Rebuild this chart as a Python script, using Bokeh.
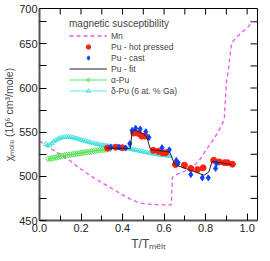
import math
from bokeh.plotting import figure
from bokeh.models import FixedTicker, Range1d, Legend, LegendItem, PrintfTickFormatter
from bokeh.embed import file_html
from bokeh.resources import INLINE

# ---------------- data ----------------
mn_x = [0.00, 0.05, 0.10, 0.15, 0.20, 0.25, 0.30, 0.35, 0.40, 0.44, 0.48, 0.52, 0.56,
        0.60, 0.635, 0.640, 0.66, 0.70, 0.74, 0.77, 0.80, 0.83, 0.855, 0.88, 0.89,
        0.90, 0.91, 0.925, 0.94, 0.97, 1.00, 1.03]
mn_y = [540, 532, 525, 517, 508, 500, 493, 486, 479, 474, 470, 468.5, 468,
        467.8, 467.6, 499, 502, 506, 511, 518, 529, 539, 548, 559, 565,
        606, 621, 651, 655, 662, 668, 675.5]

hp_x = [0.328, 0.367, 0.399, 0.454, 0.477, 0.493, 0.509, 0.548, 0.572, 0.593, 0.608,
        0.655, 0.698, 0.729, 0.761, 0.788, 0.839, 0.866, 0.891, 0.905, 0.929]
hp_y = [532, 533, 532.4, 549, 548.5, 545.5, 545.5, 529.4, 528.3, 526.7, 526.7,
        513.3, 512.6, 508.8, 507.6, 509.6, 518.2, 516.3, 515.5, 515.5, 513.7]

cast_x = [0.344, 0.383, 0.415, 0.435, 0.446, 0.463, 0.485, 0.512, 0.527, 0.590, 0.625,
          0.659, 0.668, 0.729, 0.784, 0.813, 0.848, 0.852]
cast_y = [533, 533, 532, 537, 552, 554.5, 553.5, 550.5, 544, 532.5, 530,
          518, 515, 502, 498.3, 498.3, 509, 514.5]

fit_x = [0.32, 0.438, 0.446, 0.454, 0.501, 0.517, 0.533, 0.541, 0.627, 0.651,
         0.793, 0.816, 0.831, 0.926]
fit_y = [532, 531.5, 551.9, 552.6, 548.1, 544.4, 531.2, 530, 527.5, 513.3,
         501.3, 505, 517, 513.3]

alpha_x = [0.04, 0.05, 0.06, 0.07, 0.08, 0.09, 0.10, 0.11, 0.12, 0.13, 0.14, 0.15,
           0.16, 0.17, 0.18, 0.19, 0.20, 0.21, 0.22, 0.23, 0.24, 0.25, 0.26, 0.27,
           0.28, 0.29, 0.30, 0.31, 0.32, 0.33, 0.34]
alpha_y = [519.8, 520.2, 520.5, 520.9, 521.4, 522.0, 522.6, 523.0, 523.5, 523.9, 524.2,
           524.6, 524.9, 525.3, 525.7, 526.0, 526.4, 526.7, 527.0, 527.4, 527.8, 528.2,
           528.6, 529.0, 529.3, 529.6, 529.9, 530.2, 530.5, 530.8, 531.0]

delta_x = [0.03, 0.04, 0.05, 0.06, 0.07, 0.08, 0.09, 0.10, 0.11, 0.12, 0.13, 0.14,
           0.15, 0.16, 0.17, 0.18, 0.19, 0.20, 0.21, 0.22, 0.23, 0.24, 0.25, 0.26,
           0.27, 0.28, 0.29, 0.30, 0.31, 0.32, 0.33, 0.34, 0.35, 0.36, 0.37, 0.38,
           0.39, 0.40, 0.41, 0.42, 0.43, 0.44, 0.45, 0.46, 0.47, 0.48, 0.49, 0.50,
           0.51, 0.52, 0.53, 0.54, 0.55, 0.56, 0.57, 0.58, 0.59, 0.60, 0.61, 0.62, 0.63]
delta_y = [536.5, 535.0, 535.5, 537.5, 539.5, 541.0, 542.3, 543.3, 544.0, 544.5, 544.6,
           544.5, 544.3, 543.9, 543.3, 542.7, 542.0, 541.3, 540.6, 540.0, 539.3, 538.7,
           538.1, 537.5, 537.0, 536.4, 535.9, 535.4, 535.0, 534.6, 534.3, 534.0, 533.8,
           533.6, 533.4, 533.2, 533.0, 532.6, 532.2, 531.8, 531.3, 530.8, 530.3, 529.8,
           529.3, 528.8, 528.3, 527.8, 527.3, 526.8, 526.4, 526.0, 525.6, 525.2, 524.8,
           524.5, 524.2, 523.9, 523.6, 523.3, 523.0]

x_start, x_end = 0.0, 1.05
y_start, y_end = 450, 690
x_major = [0.0, 0.2, 0.4, 0.6, 0.8, 1.0]
x_minor = [0.1, 0.3, 0.5, 0.7, 0.9]
x_top = [0.1, 0.2, 0.3, 0.4, 0.5, 0.6, 0.7, 0.8, 0.9, 1.0]
y_major = [450, 500, 550, 600, 650]
y_minor = [475, 525, 575, 625, 675]
y_right = [475, 500, 525, 550, 575, 600, 625, 650, 675]
y_top_label = "700"   # printed at the top edge of the left axis in the reference

FONT = "Liberation Sans"

p = figure(width=262, height=253,
           x_range=Range1d(x_start, x_end), y_range=Range1d(y_start, y_end),
           output_backend="svg", toolbar_location=None,
           min_border_left=34, min_border_right=5, min_border_top=8, min_border_bottom=32)
p.grid.visible = False
p.outline_line_color = "black"
p.outline_line_width = 1
p.background_fill_color = "white"

# bottom axis
xa = p.xaxis[0]
xa.ticker = FixedTicker(ticks=x_major, minor_ticks=x_minor)
xa.formatter = PrintfTickFormatter(format="%.1f")
xa.axis_line_color = "#555555"
xa.axis_line_width = 2
xa.major_tick_in = 7
xa.major_tick_out = 0
xa.minor_tick_in = 5
xa.minor_tick_out = 0
xa.major_tick_line_color = "black"
xa.minor_tick_line_color = "black"
xa.major_label_text_font = FONT
xa.major_label_text_font_size = "11px"
xa.major_label_text_color = "#222222"
xa.major_label_standoff = 3
xa.axis_label = "T/Tₘₑₗₜ"
xa.axis_label_text_font = FONT
xa.axis_label_text_font_size = "12px"
xa.axis_label_text_font_style = "normal"
xa.axis_label_standoff = 2

# left axis (the top label "700" is put on the frame's top edge)
ya = p.yaxis[0]
ya.ticker = FixedTicker(ticks=y_major + [y_end], minor_ticks=y_minor)
ya.major_label_overrides = {y_end: y_top_label}
ya.axis_line_color = "#555555"
ya.axis_line_width = 2
ya.major_tick_in = 7
ya.major_tick_out = 0
ya.minor_tick_in = 7
ya.minor_tick_out = 0
ya.major_tick_line_color = "black"
ya.minor_tick_line_color = "black"
ya.major_label_text_font = FONT
ya.major_label_text_font_size = "11px"
ya.major_label_text_color = "#222222"
ya.major_label_standoff = 2
ya.axis_label = "χₘₒₗₑ (10⁶ cm³/mole)"
ya.axis_label_text_font = FONT
ya.axis_label_text_font_size = "10.5px"
ya.axis_label_text_font_style = "normal"
ya.axis_label_standoff = 1

# top and right tick marks (inward), drawn from the tick arrays
p.ray(x=x_top, y=[y_end] * len(x_top), length=6, angle=-math.pi / 2,
      length_units="screen", line_color="black", line_width=1)
p.ray(x=[x_end] * len(y_right), y=y_right, length=7, angle=math.pi,
      length_units="screen", line_color="black", line_width=1)

# ---------------- series ----------------
r_mn = p.line(mn_x, mn_y, line_color="#ee55ee", line_width=1.3, line_dash="4 3")
r_al = p.line(alpha_x, alpha_y, line_color="#55ee55", line_width=1)
r_as = p.scatter(alpha_x, alpha_y, marker="diamond", size=6, fill_color=None,
                 line_color="#44dd44", line_width=0.8)
r_dl = p.line(delta_x, delta_y, line_color="#55eeee", line_width=1)
r_ds = p.scatter(delta_x, delta_y, marker="triangle", size=4.5, fill_color=None,
                 line_color="#33dddd", line_width=0.8)
r_hp = p.scatter(hp_x, hp_y, marker="circle", size=6, fill_color="#ff2010",
                 line_color="#ff2010")
r_ca = p.scatter(cast_x, cast_y, marker="diamond", size=6, fill_color="#1040ff",
                 line_color="#1040ff")
r_fit = p.line(fit_x, fit_y, line_color="#222222", line_width=1)

legend = Legend(items=[
    LegendItem(label="Mn", renderers=[r_mn]),
    LegendItem(label="Pu - hot pressed", renderers=[r_hp]),
    LegendItem(label="Pu - cast", renderers=[r_ca]),
    LegendItem(label="Pu - fit", renderers=[r_fit]),
    LegendItem(label="α-Pu", renderers=[r_al, r_as]),
    LegendItem(label="δ-Pu (6 at. % Ga)", renderers=[r_dl, r_ds]),
], location=(30, 124))
legend.title = "magnetic susceptibility"
legend.title_text_font = FONT
legend.title_text_font_size = "10px"
legend.title_text_font_style = "normal"
legend.title_standoff = 1
legend.label_text_font = FONT
legend.label_text_font_size = "8.5px"
legend.label_height = 11
legend.glyph_height = 11
legend.glyph_width = 38
legend.label_standoff = 4
legend.spacing = 0
legend.padding = 0
legend.margin = 0
legend.border_line_color = None
legend.background_fill_alpha = 0
p.add_layout(legend)

open("out.html", "w").write(file_html(p, INLINE))
